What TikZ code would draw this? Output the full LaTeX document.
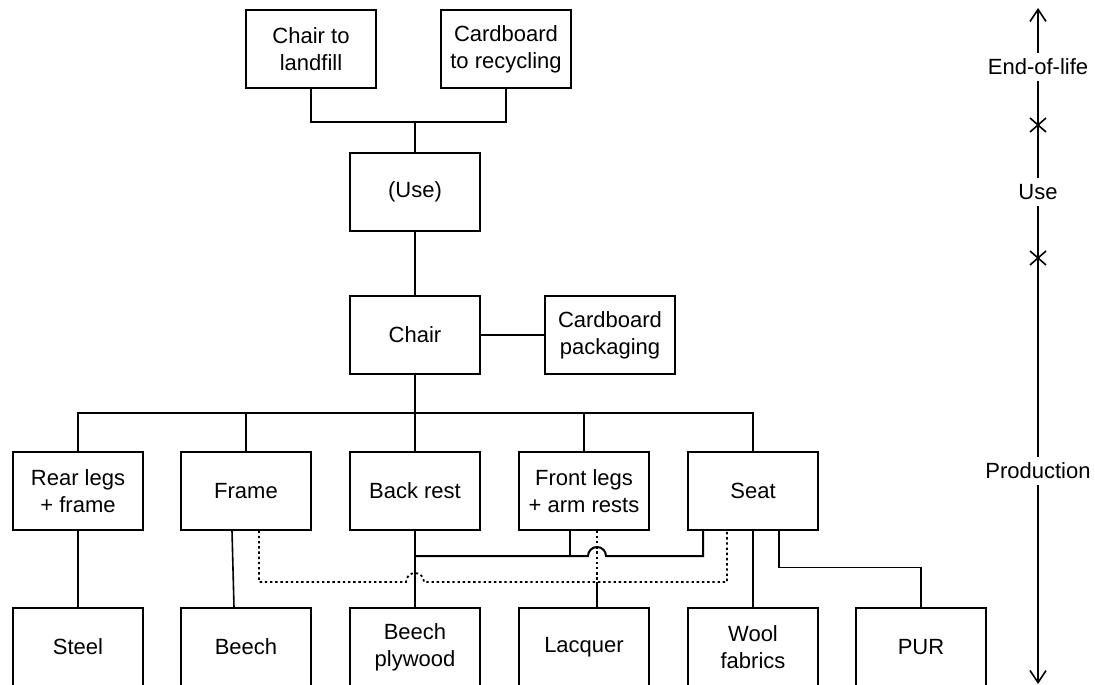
\documentclass[tikz,border=0pt]{standalone}
\usepackage{fontspec}
\setmainfont{Liberation Sans}
\usetikzlibrary{positioning, arrows.meta, calc}

\begin{document}
\begin{tikzpicture}[
  x=0.5pt, y=-0.5pt,
  >={Straight Barb[length=6pt, width=8pt]},
  box/.style={draw, minimum width=65pt, minimum height=39pt, inner sep=0pt,
              align=center, font=\fontsize{11pt}{13.5pt}\selectfont, line width=0.6pt},
  link/.style={line width=0.8pt},
  trunk/.style={line width=1.4pt},
  dotline/.style={line width=0.9pt, dash pattern=on 1.2pt off 1.4pt},
  phase/.style={fill=white, inner xsep=1pt, inner ysep=3pt,
                font=\fontsize{11pt}{13.5pt}\selectfont},
]
  \useasboundingbox (0,0) rectangle (1095,684);
  \clip (0,0) rectangle (1095,684);

  % End of life and use
  \node[box] (landfill)  at (311,49)  {Chair to\\landfill};
  \node[box] (recycling) at (506,49)  {Cardboard\\to recycling};
  \node[box] (use)       at (415,192) {(Use)};
  \node[box] (chair)     at (415,335) {Chair};
  \node[box] (packaging) at (610,335) {Cardboard\\packaging};

  % Components
  \node[box] (rear)     at (78,491)  {Rear legs\\+ frame};
  \node[box] (frame)    at (246,491) {Frame};
  \node[box] (backrest) at (415,491) {Back rest};
  \node[box] (front)    at (584,491) {Front legs\\+ arm rests};
  \node[box] (seat)     at (753,491) {Seat};

  % Materials
  \node[box] (steel)   at (78,647)  {Steel};
  \node[box] (beech)   at (246,647) {Beech};
  \node[box] (plywood) at (415,647) {Beech\\plywood};
  \node[box] (lacquer) at (584,647) {Lacquer};
  \node[box] (wool)    at (753,647) {Wool\\fabrics};
  \node[box] (pur)     at (921,647) {PUR};

  % Upper tree
  \coordinate (split) at (415,122);
  \coordinate (bus) at (415,413);
  \draw[link] (landfill.south) |- (split) -| (recycling.south);
  \draw[trunk] (split) -- (use.north);
  \draw[link] (use) -- (chair);
  \draw[link] (chair) -- (packaging);
  \draw[trunk] (chair.south) -- (bus);
  \draw[link] (rear.north) |- (bus) -| (seat.north);
  \foreach \n in {frame, backrest, front}
    \draw[link] (\n.north) -- (\n.north |- bus);

  % Lower tree
  \coordinate (join) at (415,556);
  \coordinate (dots) at (415,582);
  \coordinate (lacq) at ($(lacquer.north)+(13,0)$);
  \draw[link] (rear) -- (steel);
  \draw[link] ($(frame.south)+(-14,0)$) -- ($(beech.north)+(-12,0)$);
  \draw[link] (backrest.south) -- (join);
  \draw[trunk] (join) -- (plywood.north);
  \draw[link] ($(front.south)+(-14,0)$) -- ($(front.south |- join)+(-14,0)$);
  \draw[link, line width=1pt] (join) -- ($(lacq |- join)+(-9,0)$)
    arc[start angle=180, end angle=360, radius=9]
    -| ($(seat.south)+(-50,0)$);
  \draw[dotline] ($(frame.south)+(13,0)$) |- ($(dots)+(-9,0)$)
    arc[start angle=180, end angle=360, radius=9]
    -| ($(seat.south)+(-26,0)$);
  \draw[dotline] ($(front.south)+(13,0)$) -- (lacq |- dots);
  \draw[link] (lacq |- dots) -- (lacq);
  \draw[link] (seat) -- (wool);
  \draw[link] ($(seat.south)+(26,0)$) |- ($(pur.north)+(0,-40)$) -- (pur.north);

  % Life cycle axis
  \coordinate (tTop) at (1038,8);
  \coordinate (tBottom) at (1038,684);
  \draw[<->, link] (tTop) -- (tBottom);
  \foreach \y in {125,258}
    \draw[link] (1030,{\y-7}) -- (1046,{\y+7}) (1030,{\y+7}) -- (1046,{\y-7});
  \node[phase] (eolLabel)  at (1038,67)  {End-of-life};
  \node[phase] (useLabel)  at (1038,192) {Use};
  \node[phase] (prodLabel) at (1038,471) {Production};
\end{tikzpicture}
\end{document}
